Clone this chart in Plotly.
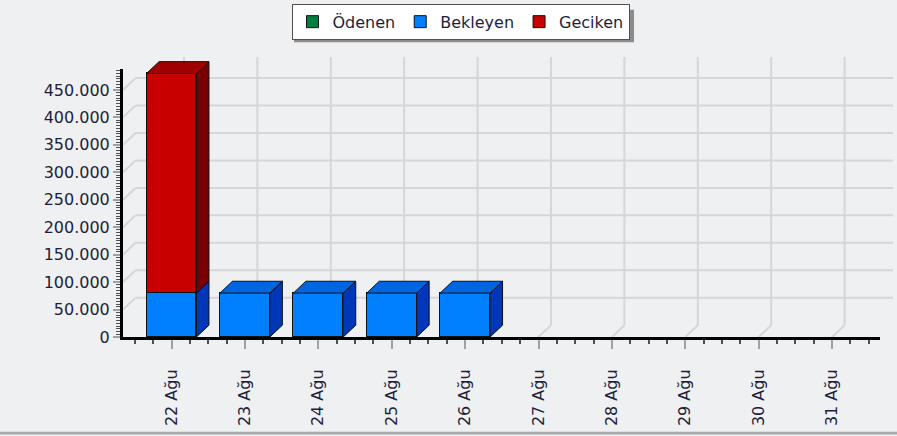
import plotly.graph_objects as go

# ---------------- data ----------------
categories = ["22 Ağu", "23 Ağu", "24 Ağu", "25 Ağu", "26 Ağu",
              "27 Ağu", "28 Ağu", "29 Ağu", "30 Ağu", "31 Ağu"]
odenen = [0, 0, 0, 0, 0, 0, 0, 0, 0, 0]
bekleyen = [80000, 80000, 80000, 80000, 80000, 0, 0, 0, 0, 0]
geciken = [400000, 0, 0, 0, 0, 0, 0, 0, 0, 0]
series_names = ["Ödenen", "Bekleyen", "Geciken"]
y_tick_values = [0, 50000, 100000, 150000, 200000, 250000, 300000, 350000, 400000, 450000]
y_tick_labels = ["0", "50.000", "100.000", "150.000", "200.000", "250.000",
                 "300.000", "350.000", "400.000", "450.000"]

# ---------------- styles / layout geometry ----------------
W, H = 897, 436
ML, MR, MT, MB = 123, 4, 53, 99
PW, PH = W - ML - MR, H - MT - MB
SP = 73.4                      # px per category
X0 = -(171.5 - ML) / SP
X1 = X0 + PW / SP
Y1 = 510000
SCALE = PH / Y1                # px per value unit
DX = 12.5 / SP                 # 3D depth (x, data units)
DY = 12 / SCALE                # 3D depth (y, data units)
HW = 0.34                      # half bar width
AXIS_R_PX = 880                # right end of floor line
AXIS_T_PX = 65                 # top of y axis line
X2_SPAN = (AXIS_R_PX - ML) / SP
Y2_TOP = (H - MB - AXIS_T_PX) / SCALE

BG = "#EFF0F2"
GRID = "#D5D6D8"
TXT = "#1E1E3C"
FONT = "DejaVu Sans"
front = {"Ödenen": "#008040", "Bekleyen": "#0080FF", "Geciken": "#C80000"}
topc = {"Ödenen": "#006030", "Bekleyen": "#0066E0", "Geciken": "#A00000"}
sidec = {"Ödenen": "#004020", "Bekleyen": "#0036B8", "Geciken": "#7A0000"}

xs = list(range(len(categories)))
values = {"Ödenen": odenen, "Bekleyen": bekleyen, "Geciken": geciken}

fig = go.Figure()

# front faces (zero segments are not drawn)
for name in series_names:
    fig.add_trace(go.Bar(
        x=xs, y=[v if v > 0 else None for v in values[name]], name=name,
        width=2 * HW,
        marker=dict(color=front[name], line=dict(color="#101010", width=1)),
        hoverinfo="skip",
    ))

# 3D side and top faces
cum = [0] * len(xs)
bases = {}
for name in series_names:
    bases[name] = list(cum)
    cum = [c + v for c, v in zip(cum, values[name])]

for k, name in enumerate(series_names):
    sx, sy, tx, ty = [], [], [], []
    for i in xs:
        v = values[name][i]
        if v <= 0:
            continue
        b = bases[name][i]
        t = b + v
        sx += [i + HW, i + HW + DX, i + HW + DX, i + HW, i + HW, None]
        sy += [b, b + DY, t + DY, t, b, None]
        above = sum(values[n][i] for n in series_names[k + 1:])
        if above == 0:
            tx += [i - HW, i - HW + DX, i + HW + DX, i + HW, i - HW, None]
            ty += [t, t + DY, t + DY, t, t, None]
    for px, py, col in ((sx, sy, sidec[name]), (tx, ty, topc[name])):
        if px:
            fig.add_trace(go.Scatter(
                x=px, y=py, mode="lines", fill="toself", fillcolor=col,
                line=dict(color="#101010", width=1), showlegend=False,
                hoverinfo="skip", connectgaps=False,
            ))

# dummy trace for the visible axes subplot
fig.add_trace(go.Scatter(x=[X0], y=[0], xaxis="x2", yaxis="y2", mode="markers",
                         marker=dict(opacity=0), showlegend=False, hoverinfo="skip"))

# back-wall grid (shapes, below traces)
shapes = []
gl = dict(color=GRID, width=2)
for v in y_tick_values[1:]:
    shapes.append(dict(type="line", xref="x", yref="y", layer="below",
                       x0=X0, y0=v, x1=X0 + DX, y1=v + DY, line=gl))
    shapes.append(dict(type="line", xref="x", yref="y", layer="below",
                       x0=X0 + DX, y0=v + DY, x1=X1, y1=v + DY, line=gl))
for i in xs:
    shapes.append(dict(type="line", xref="x", yref="y", layer="below",
                       x0=i, y0=0, x1=i + DX, y1=DY, line=gl))
    shapes.append(dict(type="line", xref="x", yref="y", layer="below",
                       x0=i + DX, y0=DY, x1=i + DX, y1=Y1, line=gl))

# bottom border
yb = lambda py: (H - MB - py) / PH
xp = lambda px: (px - ML) / PW
shapes.append(dict(type="rect", xref="paper", yref="paper", layer="below",
                   x0=xp(0), x1=xp(W), y0=yb(H), y1=yb(433),
                   fillcolor="#A8A8A8", line=dict(width=0)))
# legend shadow
shapes.append(dict(type="rect", xref="paper", yref="paper", layer="above",
                   x0=xp(294), x1=xp(634), y0=yb(38), y1=yb(5),
                   fillcolor="#8C8C8C", line=dict(width=0)))

fig.update_layout(
    width=W, height=H,
    margin=dict(l=ML, r=MR, t=MT, b=MB, pad=0),
    paper_bgcolor=BG, plot_bgcolor="rgba(0,0,0,0)",
    barmode="stack", bargap=0,
    font=dict(family=FONT, size=16, color=TXT),
    showlegend=True,
    legend=dict(orientation="h", x=xp(460.5), xanchor="center",
                y=yb(-1), yanchor="top", bgcolor="white",
                bordercolor="#505050", borderwidth=1,
                traceorder="normal", font=dict(family=FONT, size=16, color=TXT)),
    xaxis=dict(range=[X0, X1], domain=[0, 1], visible=False, fixedrange=True),
    yaxis=dict(range=[0, Y1], domain=[0, 1], visible=False, fixedrange=True),
    xaxis2=dict(range=[X0, X0 + X2_SPAN], domain=[0, X2_SPAN * SP / PW], anchor="y2",
                showline=True, linecolor="black", linewidth=3, showgrid=False,
                zeroline=False, tickmode="array", tickvals=xs, ticktext=categories,
                ticks="outside", ticklen=9, tickwidth=2, tickcolor="#A0A0A0",
                tickangle=-90, ticklabelstandoff=14, fixedrange=True,
                minor=dict(tick0=0, dtick=0.25, ticks="outside", ticklen=4,
                           tickwidth=2, tickcolor="#505050", showgrid=False),
                tickfont=dict(family=FONT, size=16, color=TXT)),
    yaxis2=dict(range=[0, Y2_TOP], domain=[0, Y2_TOP * SCALE / PH], anchor="x2",
                showline=True, linecolor="black", linewidth=3, showgrid=False,
                zeroline=False, tickmode="array", tickvals=y_tick_values,
                ticktext=y_tick_labels, ticks="outside", ticklen=7, tickwidth=2,
                tickcolor="#A0A0A0", fixedrange=True,
                minor=dict(tick0=0, dtick=5000, ticks="outside", ticklen=4,
                           tickwidth=1, tickcolor="#505050", showgrid=False),
                tickfont=dict(family=FONT, size=16, color=TXT)),
    shapes=shapes,
)

fig.write_html("out.html", config={"displayModeBar": False},
               post_script="document.body.style.margin='0';document.body.style.overflow='hidden';")
